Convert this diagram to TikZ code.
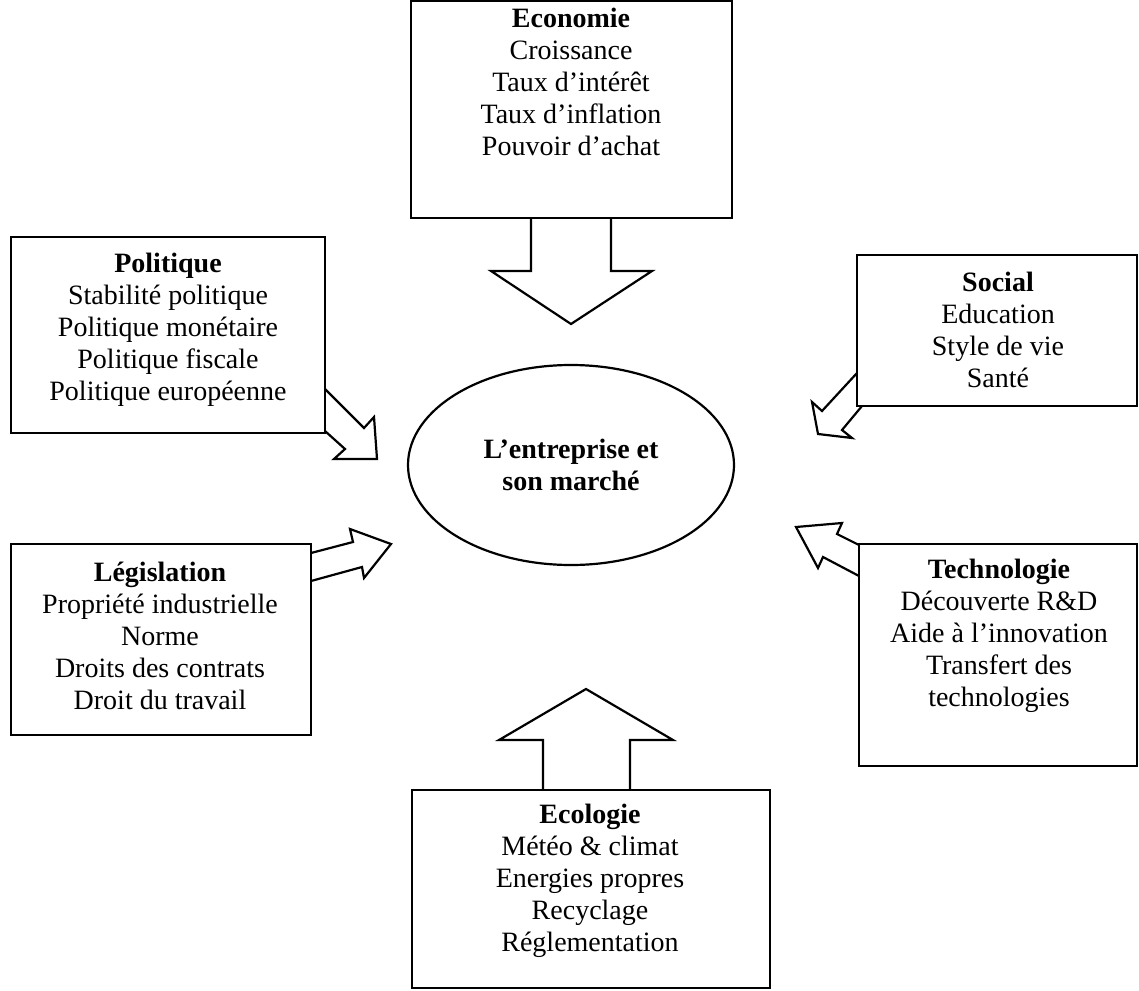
\documentclass[tikz,border=0pt]{standalone}
\usepackage{fontspec}
\setmainfont{Liberation Serif}
\usetikzlibrary{fit,shapes.geometric}
\begin{document}
\begin{tikzpicture}[x=0.5pt,y=-0.5pt,
  frame/.style={draw, line width=1.1pt, inner sep=0pt},
  txt/.style={align=center, inner sep=0pt, font=\fontsize{14}{16}\selectfont},
  blockarrow/.style={draw, line width=1.1pt, line join=miter}]
\useasboundingbox (0,0) rectangle (1139,990);
% boxes
\node[frame, fit={(411,1) (732,218)}] (eco) {};
\node[frame, fit={(11,237) (325,433)}] (pol) {};
\node[frame, fit={(857,255) (1137,406)}] (soc) {};
\node[frame, fit={(11,544) (311,735)}] (leg) {};
\node[frame, fit={(859,544) (1137,766)}] (tech) {};
\node[frame, fit={(412,790) (770,988)}] (ecol) {};
% centre
\node[draw, line width=1.1pt, ellipse, minimum width=163pt, minimum height=100pt, inner sep=0pt, align=center, font=\fontsize{14}{16}\selectfont\bfseries] (ent) at (571,465) {L’entreprise et\\son marché};
% texts
\node[txt] (ecotxt) at (571,82) {\textbf{Economie}\\Croissance\\Taux d’intérêt\\Taux d’inflation\\Pouvoir d’achat};
\node[txt] (poltxt) at (168,330) {\textbf{Politique}\\Stabilité politique\\Politique monétaire\\Politique fiscale\\Politique européenne};
\node[txt] (soctxt) at (998,330) {\textbf{Social}\\Education\\Style de vie\\Santé};
\node[txt] (legtxt) at (160,636) {\textbf{Législation}\\Propriété industrielle\\Norme\\Droits des contrats\\Droit du travail};
\node[txt] (techtxt) at (999,636) {\textbf{Technologie}\\Découverte R\&D\\Aide à l’innovation\\Transfert des\\technologies};
\node[txt] (ecoltxt) at (590,881) {\textbf{Ecologie}\\Météo \& climat\\Energies propres\\Recyclage\\Réglementation};
% block arrows
\draw[blockarrow] (531,218) -- (531,271) -- (491,271) -- (571,324) -- (652,271) -- (611,271) -- (611,218);
\draw[blockarrow] (543,790) -- (543,740) -- (499,740) -- (586,689) -- (673,740) -- (630,740) -- (630,790);
\draw[blockarrow] (325,389) -- (364,428) -- (374,417) -- (377,459) -- (334,459) -- (345,449) -- (325,431);
\draw[blockarrow] (857,373) -- (822,411) -- (812,402) -- (818,434) -- (852,438) -- (842,430) -- (862,406);
\draw[blockarrow] (311,553) -- (353,542) -- (350,529) -- (391,544) -- (364,578) -- (362,567) -- (311,581);
\draw[blockarrow] (859,545) -- (837,534) -- (842,523) -- (796,527) -- (818,568) -- (823,557) -- (859,576);
\end{tikzpicture}
\end{document}
